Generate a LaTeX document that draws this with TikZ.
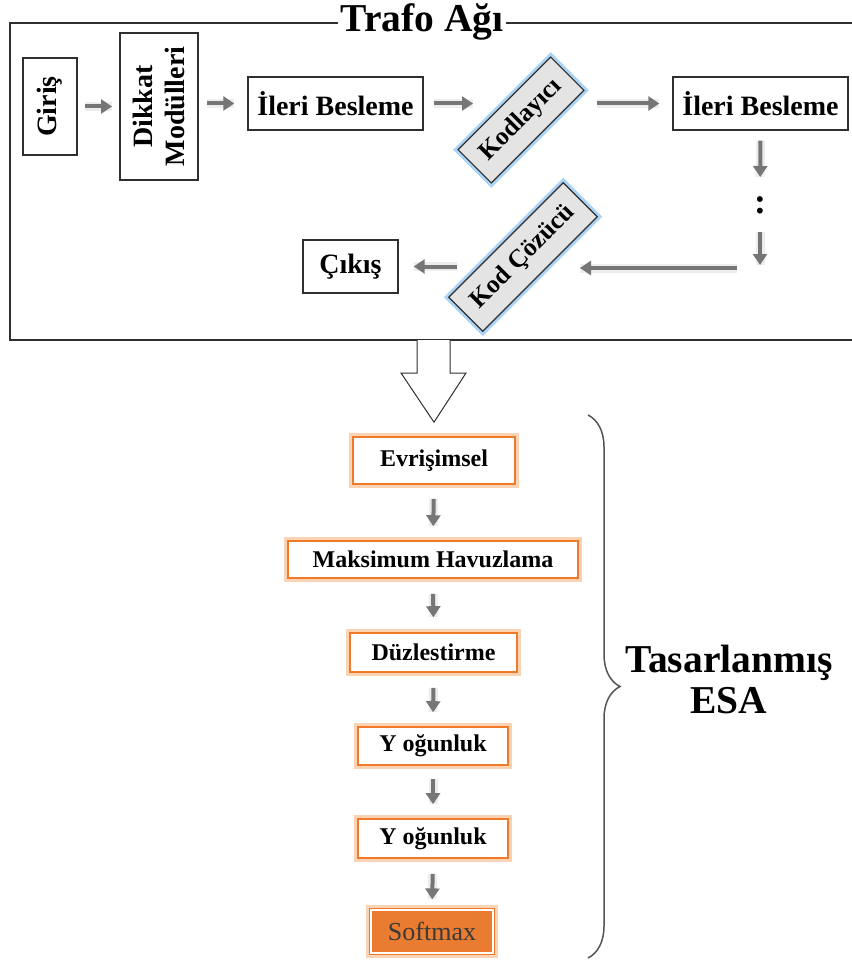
\documentclass[tikz,border=0pt]{standalone}
\usepackage{fontspec}
\setmainfont{Liberation Serif}
\usetikzlibrary{arrows.meta,decorations.pathreplacing,calc}
\definecolor{arrgray}{HTML}{767676}
\definecolor{boxline}{HTML}{2F2F2F}
\definecolor{orB}{HTML}{F07A2A}
\definecolor{orG}{HTML}{FAD2B4}
\definecolor{orF}{HTML}{E97C30}
\definecolor{blG}{HTML}{AAD3F5}
\definecolor{grF}{HTML}{E4E4E4}
\definecolor{brc}{HTML}{555555}
\definecolor{softtxt}{HTML}{3A3A3A}
\begin{document}
\begin{tikzpicture}[x=1pt,y=-1pt,
  plainbox/.style={draw=boxline, line width=1.4pt, fill=white, inner sep=0pt, align=center,
    font=\fontsize{28}{32}\selectfont\bfseries},
  tiltbox/.style={draw=boxline, line width=1.2pt, fill=grF, inner sep=0pt, rotate=45,
    font=\fontsize{25.5}{28}\selectfont\bfseries, preaction={draw=blG, line width=7pt}},
  orbox/.style={draw=orB, line width=1.6pt, fill=white, inner sep=0pt,
    font=\fontsize{24}{28}\selectfont\bfseries, preaction={draw=orG, line width=8pt}},
  softbox/.style={draw=orB, double=white, double distance=1.6pt, line width=1.2pt, fill=orF,
    inner sep=0pt, text=softtxt, font=\fontsize{26}{28}\selectfont,
    preaction={draw=orG, line width=10pt}},
  arr/.style={draw=arrgray, line width=4pt, -{Triangle[width=14pt,length=11pt]},
    preaction={draw=black!7, line width=9pt, -}},
  frameline/.style={draw=boxline, line width=1.4pt},
  bigtitle/.style={font=\fontsize{39.5}{41}\selectfont\bfseries, inner sep=2pt},
]
\useasboundingbox (0,0) rectangle (851,960);

% ---------- Trafo Agi frame ----------
\node[bigtitle, anchor=base] (title) at (422,32) {Trafo Ağı};
\coordinate (tl) at (10,23);
\coordinate (tr) at (853,23);
\coordinate (bl) at (10,340);
\coordinate (br) at (853,340);
\draw[frameline] (title.west |- tl) -- (tl) -- (bl) -- (br);
\draw[frameline] (title.east |- tl) -- (tr);

% ---------- upper nodes ----------
\node[plainbox, rotate=90, minimum width=97pt, minimum height=54pt] (gir) at (50,106.5) {Giriş};
\node[plainbox, rotate=90, minimum width=147pt, minimum height=78pt] (dik) at (159,106.5) {Dikkat\\Modülleri};
\node[plainbox, minimum width=175pt, minimum height=53pt] (ib1) at (335.5,103.5) {İleri Besleme};
\node[tiltbox, minimum width=131pt, minimum height=47pt] (kod) at (521,120) {Kodlayıcı};
\node[plainbox, minimum width=175pt, minimum height=53pt] (ib2) at (760.5,103.5) {İleri Besleme};
\node[font=\fontsize{36}{36}\selectfont\bfseries, inner sep=0pt] (dots) at (760,205) {:};
\coordinate (cr) at (760,268);
\node[tiltbox, minimum width=162pt, minimum height=48pt] (kodc) at (523,257) {Kod Çözücü};
\node[plainbox, minimum width=95pt, minimum height=53pt] (cik) at (350.5,266.5) {Çıkış};

% ---------- upper connectors ----------
\draw[arr, shorten <=35pt, shorten >=47pt] (gir.center) -- (dik.center);
\draw[arr, shorten <=48pt, shorten >=13pt] (ib1.west -| dik.center) -- (ib1.west);
\draw[arr, shorten <=10pt, shorten >=48pt] (ib1.east) -- (ib1.east -| kod.center);
\draw[arr, shorten <=76pt, shorten >=13pt] (kod.center |- ib2.west) -- (ib2.west);
\draw[arr, shorten <=10pt, shorten >=28pt] (ib2.south) -- (dots.center);
\draw[arr, shorten <=27pt, shorten >=3pt] (dots.center) -- (cr);
\draw[arr, shorten <=23pt, shorten >=57pt] (cr) -- (kodc.center |- cr);
\draw[arr, shorten <=66pt, shorten >=15pt] (kodc.center |- cik.east) -- (cik.east);

% ---------- lower nodes ----------
\node[orbox, minimum width=162pt, minimum height=47pt] (evr) at (434,460.5) {Evrişimsel};
\node[orbox, minimum width=290pt, minimum height=37pt] (mak) at (433,559.5) {Maksimum Havuzlama};
\node[orbox, minimum width=167pt, minimum height=39pt] (duz) at (433.5,652.5) {Düzlestirme};
\node[orbox, minimum width=150pt, minimum height=38pt] (yog1) at (433,746) {Y oğunluk};
\node[orbox, minimum width=150pt, minimum height=39pt] (yog2) at (433,838.5) {Y oğunluk};
\node[softbox, minimum width=122pt, minimum height=43pt] (soft) at (432,931.5) {Softmax};

% ---------- big hollow arrow from frame to first block ----------
\coordinate (ha1) at (417,340);
\coordinate (ha2) at (450,340);
\draw[draw=boxline, line width=1pt, fill=white, line join=miter]
  (ha1) -- (417,373) -- (401,373) -- ($(evr.north)+(0,-14)$) -- (466,373) -- (450,373) -- (ha2);

% ---------- lower connectors ----------
\draw[arr, shorten <=14pt, shorten >=14pt] (evr.south) -- (mak.north);
\draw[arr, shorten <=15pt, shorten >=15pt] (mak.south) -- (duz.north);
\draw[arr, shorten <=15pt, shorten >=14pt] (duz.south) -- (yog1.north);
\draw[arr, shorten <=13pt, shorten >=14pt] (yog1.south) -- (yog2.north);
\draw[arr, shorten <=15pt, shorten >=10pt] (yog2.south) -- (soft.north);

% ---------- brace and label ----------
\coordinate (b1) at (588,415);
\coordinate (b2) at (588,958);
\draw[decorate, decoration={brace, amplitude=32pt}, draw=brc, line width=1.5pt] (b1) -- (b2);
\node[bigtitle, anchor=base] (esa1) at (729,672) {Tasarlanmış};
\node[bigtitle, anchor=base] (esa2) at (729,713) {ESA};
\end{tikzpicture}
\end{document}
